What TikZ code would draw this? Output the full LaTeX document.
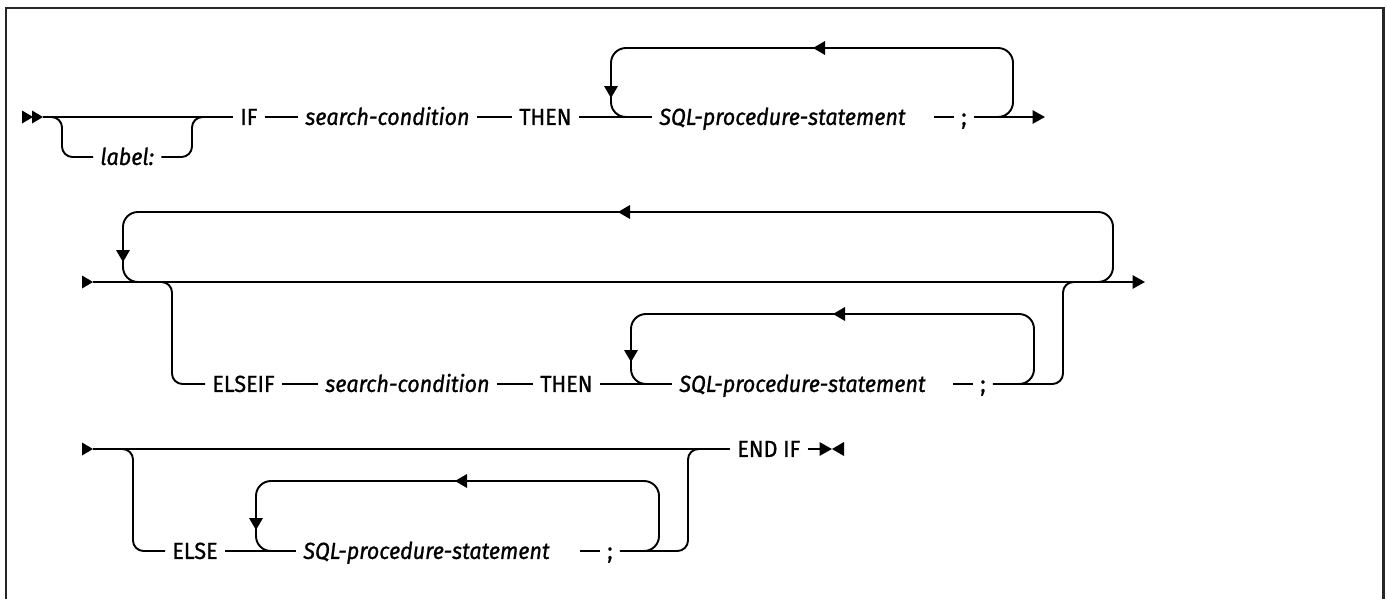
\documentclass[tikz,border=0pt]{standalone}
\usepackage{fontspec}
\setmainfont{Fira Sans}[FakeBold=1, FakeStretch=0.93]
\usetikzlibrary{arrows.meta}

\begin{document}
\begin{tikzpicture}[
    x=0.02cm, y=-0.02cm,
    rail/.style={line width=1.1pt, rounded corners=6pt},
    backrail/.style={rail, rounded corners=8.5pt},
    frame/.style={line width=1.7pt, draw=black!85},
    kw/.style={anchor=west, inner xsep=4pt, inner ysep=0pt, text height=9pt, text depth=0pt, font=\fontsize{13.2}{15}\selectfont},
    var/.style={kw, font=\fontsize{13.2}{15}\selectfont\itshape},
    arrow/.style={rail, -{Triangle[length=7pt, width=7.5pt]}},
    tipL/.pic={\fill (0,0) -- (12,-7) -- (12,7) -- cycle;},
    tipR/.pic={\fill (0,0) -- (-11,-6.5) -- (-11,6.5) -- cycle;},
    tipD/.pic={\fill (0,0) -- (-7,-12) -- (7,-12) -- cycle;}
]
\useasboundingbox (0,0) rectangle (1387,599);
\draw[frame] (6,599) -- (6,8) -- (1383,8) -- (1383,599);

\pic at (33,117) {tipR};
\pic at (43,117) {tipR};
\coordinate (s1) at (43,117);
\coordinate (e1) at (1045,117);
\node[var] (lbl) at (93,157) {label:};
\node[kw] (if1) at (233,117) {IF};
\node[var] (sc1) at (298,117) {search-condition};
\node[kw] (then1) at (512,117) {THEN};
\node[var] (sql1) at (652,117) {SQL-procedure-statement};
\node[kw] (semi1) at (954,117) {;};
\draw[rail] (s1) -- (if1);
\draw[rail] (50,117) -| (62,157) -- (lbl);
\draw[rail] (lbl.east) -| (192,117) -- (212,117);
\draw[rail] (if1) -- (sc1);
\draw[rail] (sc1) -- (then1);
\draw[rail] (then1) -- (sql1);
\draw[rail] (semi1) -- ++(-30,0);
\draw[arrow] (semi1) -- (e1);
\draw[backrail] (990,117) -| (1013,48) -| (611,117) -- (632,117);
\pic at (611,98) {tipD};
\pic at (813,48) {tipL};

\pic at (93,282) {tipR};
\coordinate (s2) at (93,282);
\coordinate (e2) at (1145,282);
\node[kw] (elseif) at (205,384) {ELSEIF};
\node[var] (sc2) at (318,384) {search-condition};
\node[kw] (then2) at (533,384) {THEN};
\node[var] (sql2) at (672,384) {SQL-procedure-statement};
\node[kw] (semi2) at (973,384) {;};
\draw[arrow] (s2) -- (e2);
\draw[backrail] (1098,282) -| (1113,212) -| (123,282) -- (142,282);
\pic at (123,262) {tipD};
\pic at (618,212) {tipL};
\draw[rail] (158,282) -| (172,384) -- (elseif);
\draw[rail] (elseif) -- (sc2);
\draw[rail] (sc2) -- (then2);
\draw[rail] (then2) -- (sql2);
\draw[rail] (semi2) -- ++(-30,0);
\draw[rail] (semi2.east) -| (1063,282) -- (1080,282);
\draw[backrail] (1020,384) -| (1034,314) -| (631,384) -- (650,384);
\pic at (631,362) {tipD};
\pic at (833,314) {tipL};

\pic at (93,449) {tipR};
\coordinate (s3) at (93,449);
\coordinate (fin) at (832,449);
\node[kw] (endif) at (730,449) {END IF};
\node[kw] (else) at (165,551) {ELSE};
\node[var] (sql3) at (296,551) {SQL-procedure-statement};
\node[kw] (semi3) at (600,551) {;};
\draw[rail] (s3) -- (endif);
\draw[rail] (120,449) -| (133,551) -- (else);
\draw[rail] (else) -- (sql3);
\draw[rail] (semi3) -- ++(-30,0);
\draw[rail] (semi3.east) -| (688,449) -- (702,449);
\draw[backrail] (645,551) -| (659,481) -| (256,551) -- (275,551);
\pic at (256,530) {tipD};
\pic at (455,481) {tipL};
\draw[arrow] (endif) -- (fin);
\pic at (832,449) {tipL};
\end{tikzpicture}
\end{document}
